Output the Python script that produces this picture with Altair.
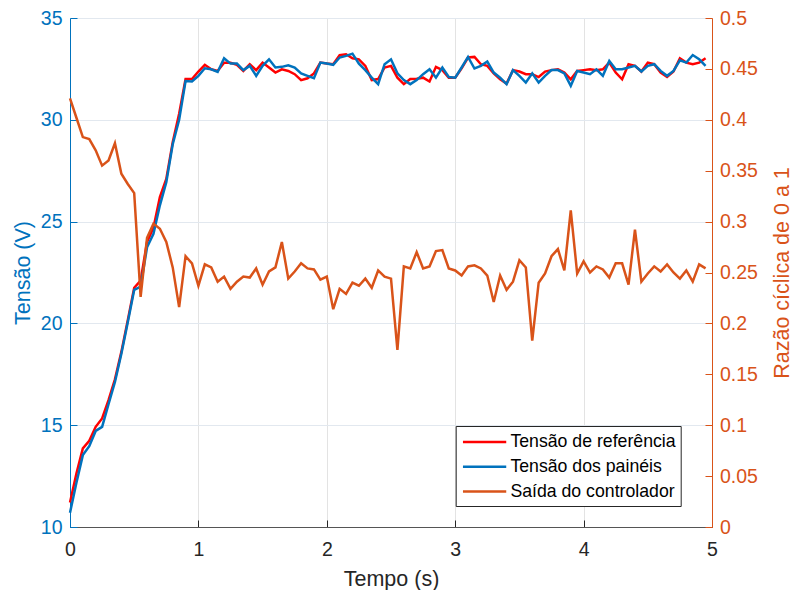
import altair as alt
import pandas as pd

t = [round(i * 0.05, 2) for i in range(100)]

ref = [
    11.2, 12.63, 13.86, 14.23, 14.92, 15.33, 16.23, 17.25, 18.6, 20.15,
    21.75, 22.1, 24.0, 24.7, 26.2, 27.1, 28.9, 30.3, 32.0, 32.0,
    32.37, 32.7, 32.48, 32.4, 32.8, 32.8, 32.7, 32.4, 32.73, 32.44,
    32.81, 32.57, 32.32, 32.48, 32.4, 32.24, 31.95, 32.04, 32.28, 32.81,
    32.76, 32.73, 33.17, 33.22, 33.02, 32.97, 32.65, 31.95, 32.0, 32.57,
    32.65, 32.07, 31.75, 32.0, 32.02, 32.07, 31.88, 32.6, 32.44, 32.07,
    32.07, 32.53, 33.06, 33.09, 32.73, 32.65, 32.28, 31.99, 31.78, 32.44,
    32.37, 32.24, 32.24, 32.1, 32.37, 32.44, 32.48, 32.32, 31.99, 32.40,
    32.44, 32.48, 32.44, 32.48, 32.81, 32.32, 31.99, 32.73, 32.65, 32.37,
    32.81, 32.73, 32.32, 32.1, 32.37, 33.02, 32.81, 32.73, 32.81, 33.02,
]

pan = [
    10.70, 12.17, 13.53, 13.97, 14.72, 14.92, 16.03, 17.12, 18.51, 20.06,
    21.65, 21.8, 23.74, 24.4, 25.8, 26.93, 28.8, 30.0, 31.9, 31.88,
    32.16, 32.53, 32.48, 32.35, 33.02, 32.76, 32.76, 32.44, 32.65, 32.16,
    32.65, 32.97, 32.57, 32.6, 32.68, 32.57, 32.28, 32.16, 32.04, 32.81,
    32.76, 32.7, 33.06, 33.14, 33.25, 32.76, 32.44, 32.07, 31.75, 32.73,
    32.97, 32.28, 31.95, 31.75, 31.95, 32.24, 32.48, 32.07, 32.57, 32.1,
    32.07, 32.57, 33.09, 32.52, 32.65, 32.86, 32.32, 32.07, 31.75, 32.44,
    32.16, 31.83, 32.28, 31.83, 32.16, 32.44, 32.44, 32.28, 31.67, 32.40,
    32.32, 32.24, 32.48, 32.16, 32.89, 32.48, 32.48, 32.57, 32.65, 32.37,
    32.65, 32.73, 32.40, 32.16, 32.40, 32.92, 32.81, 33.18, 32.97, 32.65,
]

duty = [
    0.421, 0.402, 0.383, 0.381, 0.370, 0.355, 0.360, 0.377, 0.347, 0.337,
    0.328, 0.226, 0.284, 0.298, 0.293, 0.280, 0.255, 0.216, 0.266, 0.259,
    0.237, 0.258, 0.255, 0.241, 0.246, 0.234, 0.241, 0.246, 0.245, 0.254,
    0.238, 0.251, 0.255, 0.280, 0.244, 0.251, 0.259, 0.254, 0.253, 0.243,
    0.246, 0.214, 0.234, 0.229, 0.240, 0.237, 0.244, 0.235, 0.252, 0.246,
    0.244, 0.174, 0.256, 0.254, 0.270, 0.254, 0.256, 0.271, 0.272, 0.254,
    0.252, 0.247, 0.256, 0.257, 0.254, 0.247, 0.221, 0.247, 0.233, 0.241,
    0.262, 0.255, 0.183, 0.240, 0.249, 0.266, 0.273, 0.252, 0.311, 0.249,
    0.261, 0.250, 0.256, 0.253, 0.245, 0.259, 0.259, 0.238, 0.292, 0.241,
    0.249, 0.256, 0.251, 0.258, 0.250, 0.244, 0.252, 0.241, 0.258, 0.254,
]

series = ["Tensão de referência", "Tensão dos painéis", "Saída do controlador"]
colors = ["#FF0000", "#0072BD", "#D95319"]

x_ticks = [0, 1, 2, 3, 4, 5]
left_ticks = [10, 15, 20, 25, 30, 35]
right_ticks = [0, 0.05, 0.1, 0.15, 0.2, 0.25, 0.3, 0.35, 0.4, 0.45, 0.5]

# ---- tables ----
df_v = pd.DataFrame({
    "t": t + t,
    "v": ref + pan,
    "s": [series[0]] * len(ref) + [series[1]] * len(pan),
})
df_d = pd.DataFrame({"t": t, "d": duty, "s": [series[2]] * len(duty)})

FONT = "Liberation Sans"
BLUE = "#0072BD"
ORANGE = "#D95319"
DARK = "#262626"

color_scale = alt.Scale(domain=series, range=colors)
legend = alt.Legend(
    orient="none", legendX=385.7, legendY=408, title=None, direction="vertical",
    symbolType="M-2.22,0H2.22", symbolSize=380, symbolStrokeWidth=2.5,
    symbolOffset=12.9, labelOffset=14.8, labelFontSize=17.7, labelFont=FONT,
    labelColor="#000000", labelLimit=400, padding=5, rowPadding=4.8,
    strokeColor=DARK, fillColor="white", cornerRadius=0,
)

x_axis = alt.Axis(
    values=x_ticks, title="Tempo (s)", format="d", labelFlush=False,
    grid=True, gridColor="#E3E3E3", gridWidth=1,
    domainColor="#555555", domainWidth=1,
    tickColor=DARK, tickSize={"expr": "-7"}, tickWidth=1,
    labelColor=DARK, labelFontSize=19.5, labelFont=FONT, labelPadding=20.5,
    titleFont=FONT, titleFontSize=21.5, titleFontWeight="normal", titleColor=DARK,
    titleY=58, titleBaseline="alphabetic",
)

x_enc = alt.X("t:Q", scale=alt.Scale(domain=[0, 5], nice=False), axis=x_axis)

left = alt.Chart(df_v).mark_line(strokeWidth=2.5).encode(
    x=x_enc,
    y=alt.Y(
        "v:Q",
        scale=alt.Scale(domain=[10, 35], nice=False, zero=False),
        axis=alt.Axis(
            orient="left", values=left_ticks, title="Tensão (V)", format="d",
            labelFlush=False,
            grid=True, gridColor="#E2E8EF", gridWidth=1,
            domainColor=BLUE, domainWidth=1,
            tickColor=BLUE, tickSize={"expr": "-7"}, tickWidth=1,
            labelColor=BLUE, labelFontSize=19.5, labelFont=FONT, labelPadding=15,
            titleFont=FONT, titleFontSize=21.5, titleFontWeight="normal",
            titleColor=BLUE, titleX=-41, titleBaseline="alphabetic", titleAngle=270,
        ),
    ),
    color=alt.Color("s:N", scale=color_scale, legend=legend),
)

right = alt.Chart(df_d).mark_line(strokeWidth=2.5).encode(
    x=x_enc,
    y=alt.Y(
        "d:Q",
        scale=alt.Scale(domain=[0, 0.5], nice=False),
        axis=alt.Axis(
            orient="right", values=right_ticks, title="Razão cíclica de 0 a 1", format="~g",
            labelFlush=False,
            grid=False,
            domainColor=ORANGE, domainWidth=1,
            tickColor=ORANGE, tickSize={"expr": "-7"}, tickWidth=1,
            labelColor=ORANGE, labelFontSize=19.5, labelFont=FONT, labelPadding=14.5,
            titleFont=FONT, titleFontSize=21.5, titleFontWeight="normal",
            titleColor=ORANGE, titleX=76, titleBaseline="alphabetic", titleAngle=270,
        ),
    ),
    color=alt.Color("s:N", scale=color_scale, legend=legend),
)

chart = (
    alt.layer(left, right)
    .resolve_scale(y="independent")
    .properties(
        width=642, height=509,
        padding={"left": 70, "top": 18, "right": 80, "bottom": 63},
        autosize=alt.AutoSizeParams(type="none"),
        background="white",
    )
    .configure_view(stroke=None)
    .configure(font=FONT)
)

chart.save("out.html", embed_options={"renderer": "svg", "actions": False})
